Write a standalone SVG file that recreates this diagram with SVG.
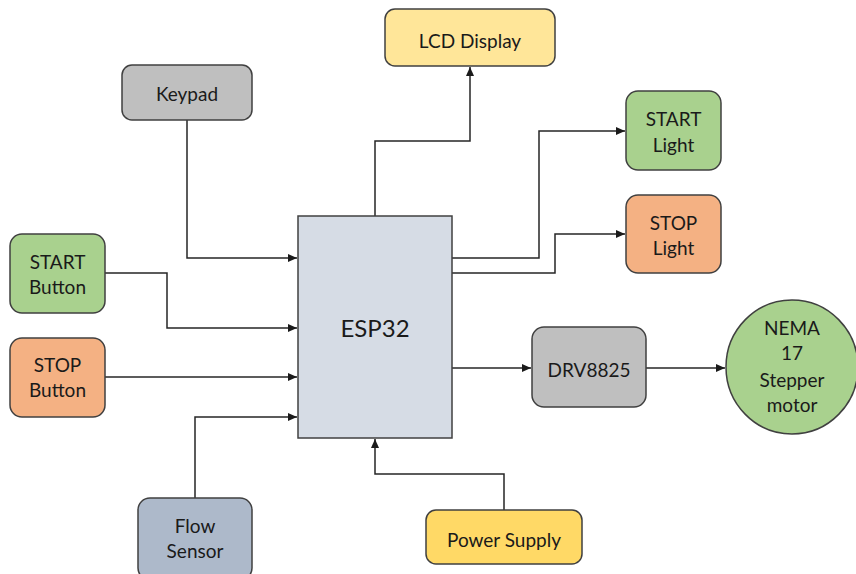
<svg xmlns="http://www.w3.org/2000/svg" width="856" height="574" viewBox="0 0 856 574">
<style>
.n{stroke:#404040;stroke-width:1.5}
.t{font-family:Lato,"Liberation Sans",sans-serif;font-size:19px;fill:#1a1a1a;text-anchor:middle}
.c{fill:none;stroke:#262626;stroke-width:1.5}
</style>
<defs>
<marker id="a" markerUnits="userSpaceOnUse" markerWidth="10" markerHeight="8" refX="9" refY="4" orient="auto">
<path d="M0,0 L9,4 L0,8 z" fill="#1a1a1a"/>
</marker>
</defs>
<rect width="856" height="574" fill="#fff"/>
<g id="connectors">
<path class="c" marker-end="url(#a)" d="M187,120 V258 H297"/>
<path class="c" marker-end="url(#a)" d="M105,273 H167 V328 H297"/>
<path class="c" marker-end="url(#a)" d="M105,377 H297"/>
<path class="c" marker-end="url(#a)" d="M195,498 V417 H297"/>
<path class="c" marker-end="url(#a)" d="M504,510 V474 H375 V439"/>
<path class="c" marker-end="url(#a)" d="M375,216 V141 H470 V67"/>
<path class="c" marker-end="url(#a)" d="M452,258 H539 V131 H625"/>
<path class="c" marker-end="url(#a)" d="M452,273 H555 V234 H625"/>
<path class="c" marker-end="url(#a)" d="M452,368 H531"/>
<path class="c" marker-end="url(#a)" d="M646,368 H725"/>
</g>
<g id="keypad">
<rect class="n" x="122" y="65" width="130" height="55" rx="10" fill="#bfbfbf"/>
<text class="t" x="187" y="101">Keypad</text>
</g>
<g id="lcd">
<rect class="n" x="385" y="9" width="170" height="57" rx="10" fill="#ffe699"/>
<text class="t" x="470" y="48">LCD Display</text>
</g>
<g id="start-light">
<rect class="n" x="626" y="91" width="95" height="79" rx="12" fill="#a9d18e"/>
<text class="t" x="673.5" y="126">START</text>
<text class="t" x="673.5" y="152">Light</text>
</g>
<g id="stop-light">
<rect class="n" x="626" y="195" width="95" height="78" rx="12" fill="#f4b183"/>
<text class="t" x="673.5" y="230">STOP</text>
<text class="t" x="673.5" y="255">Light</text>
</g>
<g id="start-button">
<rect class="n" x="10" y="234" width="95" height="79" rx="12" fill="#a9d18e"/>
<text class="t" x="57.5" y="269">START</text>
<text class="t" x="57.5" y="294">Button</text>
</g>
<g id="stop-button">
<rect class="n" x="10" y="338" width="95" height="79" rx="12" fill="#f4b183"/>
<text class="t" x="57.5" y="372">STOP</text>
<text class="t" x="57.5" y="397">Button</text>
</g>
<g id="esp32">
<rect class="n" x="298" y="216" width="154" height="222" fill="#d6dce5"/>
<text class="t" x="375" y="337" style="font-size:24px">ESP32</text>
</g>
<g id="drv8825">
<rect class="n" x="532" y="327" width="114" height="80" rx="12" fill="#bfbfbf"/>
<text class="t" x="589" y="377">DRV8825</text>
</g>
<g id="nema">
<ellipse class="n" cx="792" cy="367" rx="66" ry="67" fill="#a9d18e"/>
<text class="t" x="792" y="335">NEMA</text>
<text class="t" x="792" y="360">17</text>
<text class="t" x="792" y="387">Stepper</text>
<text class="t" x="792" y="412">motor</text>
</g>
<g id="flow-sensor">
<rect class="n" x="138" y="498" width="114" height="82" rx="12" fill="#adb9ca"/>
<text class="t" x="195" y="533">Flow</text>
<text class="t" x="195" y="558">Sensor</text>
</g>
<g id="power-supply">
<rect class="n" x="426" y="510" width="156" height="54" rx="10" fill="#ffd966"/>
<text class="t" x="504" y="547">Power Supply</text>
</g>
</svg>
